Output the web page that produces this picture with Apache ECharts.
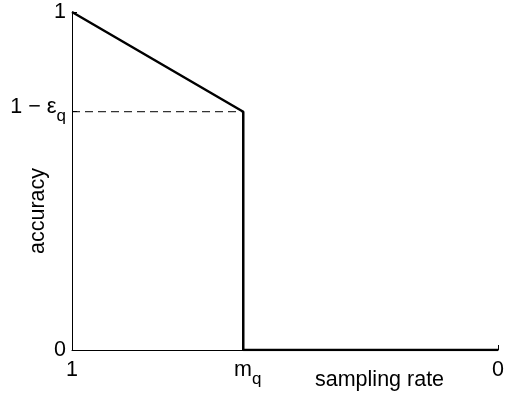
<!DOCTYPE html>
<html><head><meta charset="utf-8">
<script src="https://cdn.jsdelivr.net/npm/echarts@6/dist/echarts.min.js"></script>
<style>html,body{margin:0;padding:0;background:#fff}#c{width:507px;height:396px}</style>
</head><body><div id="c"></div>
<script>
// data
const mq = 0.598;          // sampling rate m_q
const epsQ = 0.295;        // accuracy drop ε_q
const accuracyCurve = [[1, 1], [mq, 1 - epsQ], [mq, 0], [0, 0]];
const dashedGuide = [[1, 1 - epsQ], [mq, 1 - epsQ]];
const xTicks = [1, mq, 0];
const xTickLabels = ['1', '{m|m}{s|q}', '0'];
const yTicks = [0, 1 - epsQ, 1];
const yTickLabels = ['0', '{n|1 − }{e|ε}{s|q}', '1'];

const FONT = 'Liberation Sans';
const chart = echarts.init(document.getElementById('c'), null, {renderer: 'canvas'});
function labelFor(ticks, labels, v) {
  for (let i = 0; i < ticks.length; i++) if (Math.abs(ticks[i] - v) < 1e-9) return labels[i];
  return '';
}
const rich = {
  m: {fontFamily: FONT, fontSize: 21.5, color: '#000', padding: [0, 0, 9, 9]},
  n: {fontFamily: FONT, fontSize: 21.5, color: '#000', padding: [0, 0, 9, 0]},
  e: {fontFamily: FONT, fontSize: 22, color: '#000', padding: [0, 0, 9, 0]},
  s: {fontFamily: FONT, fontSize: 17, color: '#000', padding: [9, 0, 0, 0]}
};
chart.setOption({
  animation: false,
  grid: {left: 72, right: 4, top: 12, bottom: 46, containLabel: false},
  xAxis: {
    type: 'value', min: 0, max: 1, inverse: true,
    axisLine: {show: true, onZero: false, lineStyle: {color: '#000', width: 1}},
    axisTick: {show: true, inside: true, length: 5, customValues: xTicks, lineStyle: {color: '#000'}},
    splitLine: {show: false},
    axisLabel: {
      customValues: xTicks, margin: 9, color: '#000', fontFamily: FONT, fontSize: 21.5,
      formatter: v => labelFor(xTicks, xTickLabels, v), rich: rich
    }
  },
  yAxis: {
    type: 'value', min: 0, max: 1,
    axisLine: {show: true, onZero: false, lineStyle: {color: '#000', width: 1}},
    axisTick: {show: true, inside: true, length: 5, customValues: yTicks, lineStyle: {color: '#000'}},
    splitLine: {show: false},
    axisLabel: {
      customValues: yTicks, margin: 6, color: '#000', fontFamily: FONT, fontSize: 21.5,
      formatter: v => labelFor(yTicks, yTickLabels, v), rich: rich
    }
  },
  graphic: [
    {type: 'text', left: 315, top: 369, style: {text: 'sampling rate', font: '21.5px "Liberation Sans"', fill: '#000'}},
    {type: 'text', left: 27, top: 168, rotation: Math.PI / 2, style: {text: 'accuracy', font: '21.5px "Liberation Sans"', fill: '#000'}}
  ],
  series: [
    {type: 'line', data: dashedGuide, symbol: 'none', silent: true,
     lineStyle: {color: '#000', width: 1, type: [8, 5]}},
    {type: 'line', data: accuracyCurve, symbol: 'none', silent: true,
     lineStyle: {color: '#000', width: 2.5}}
  ]
});
</script></body></html>
